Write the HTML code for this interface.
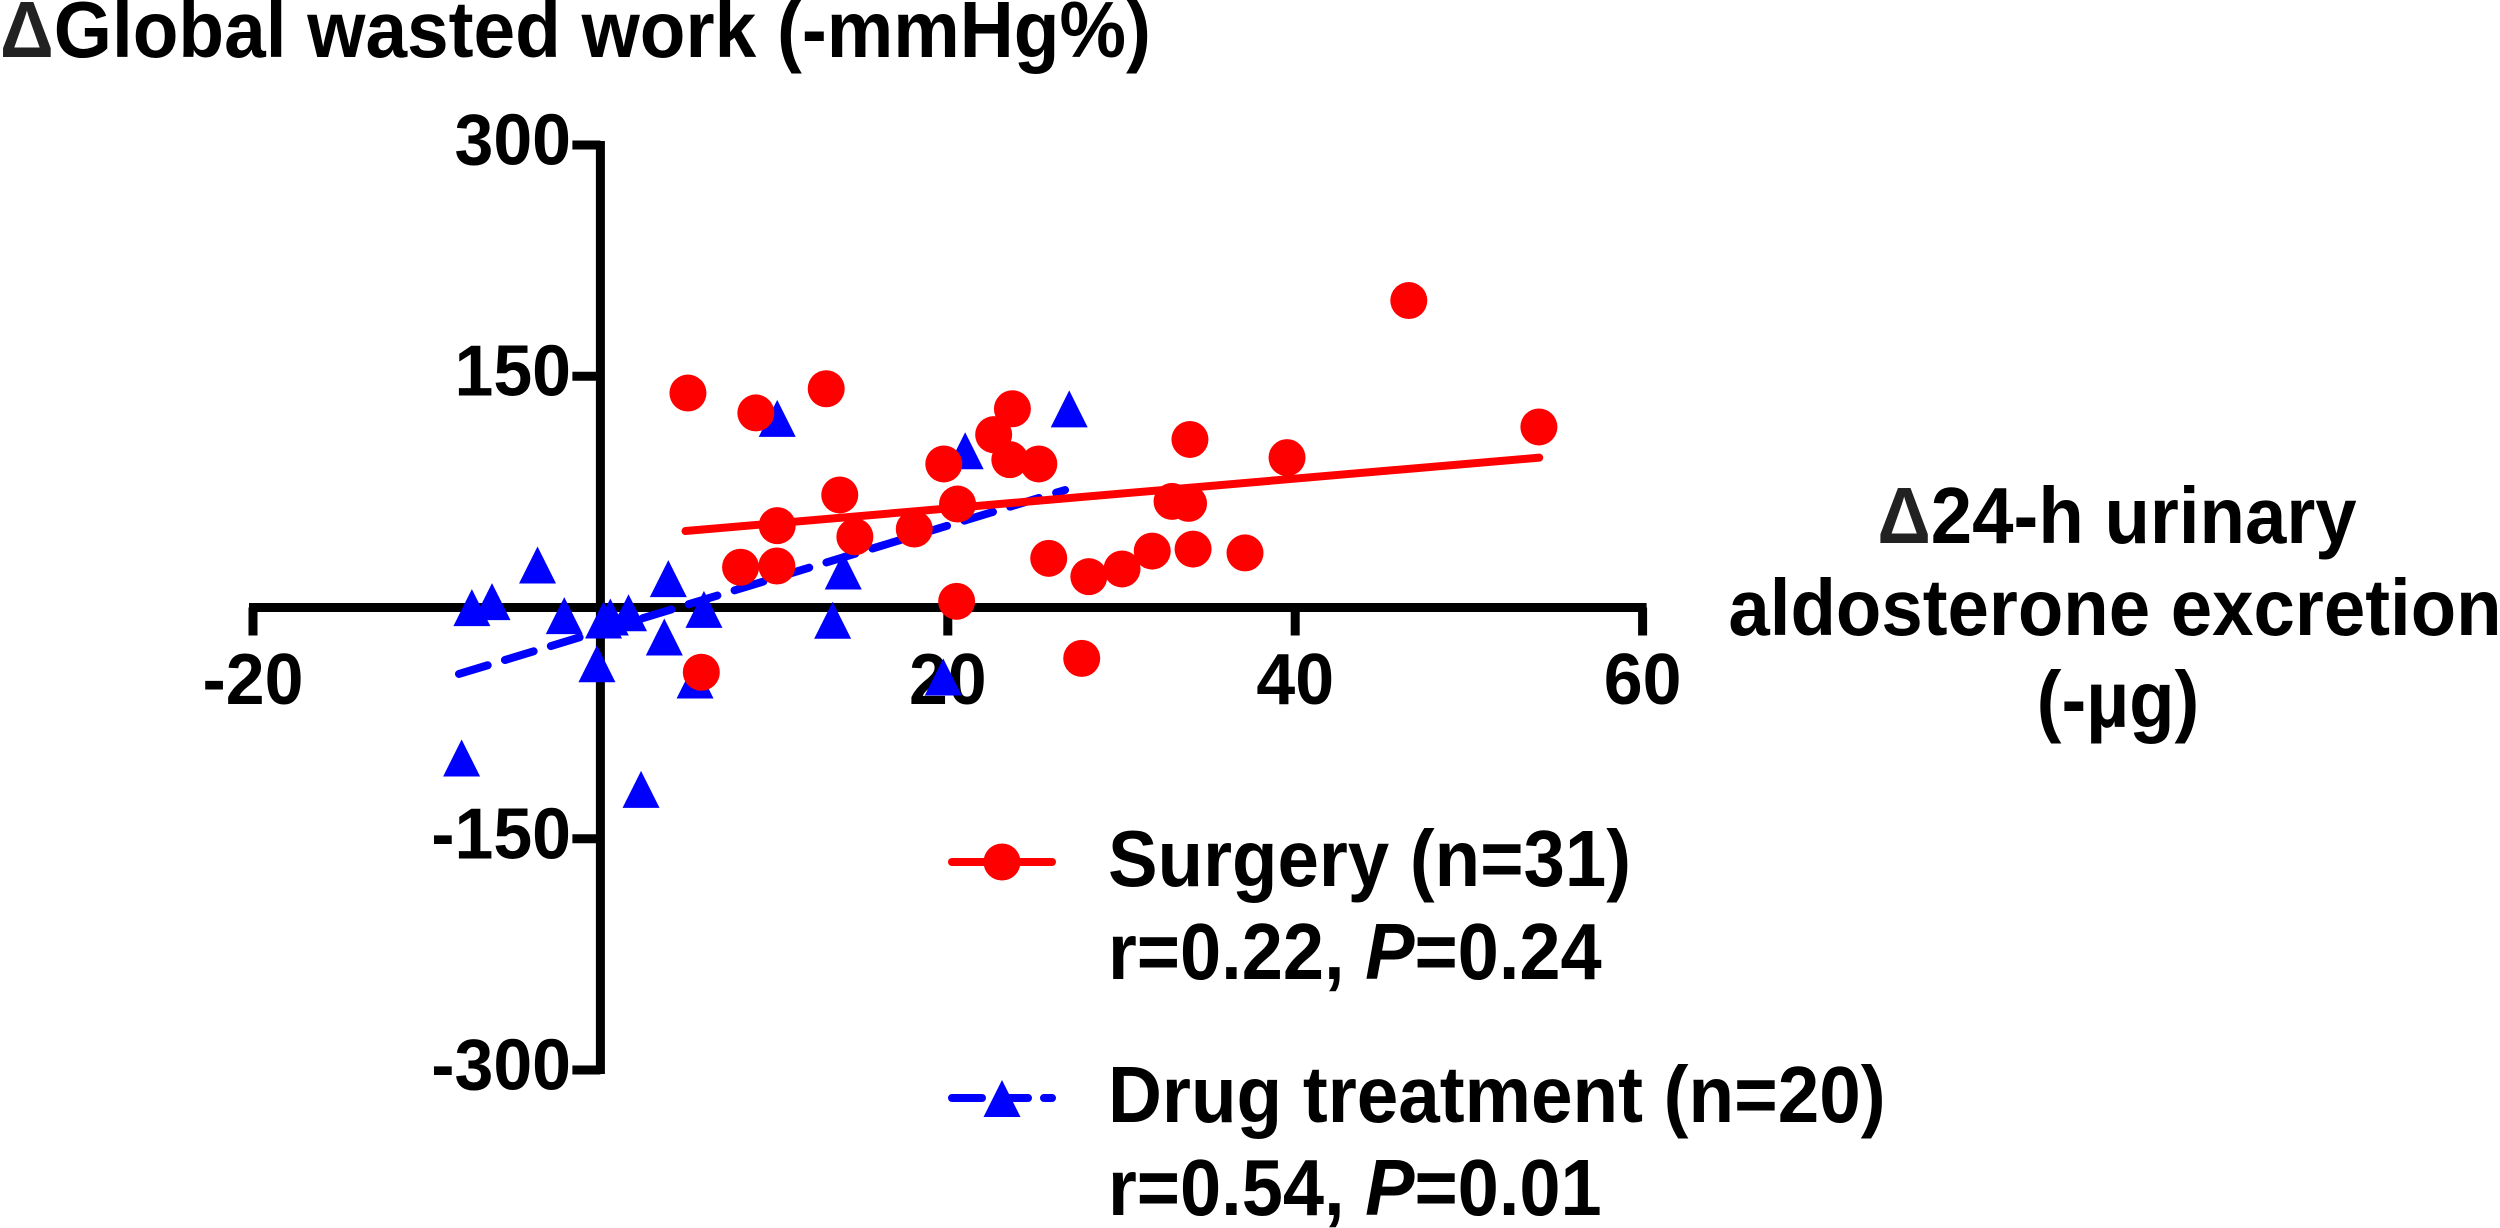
<!DOCTYPE html>
<html lang="en">
<head>
<meta charset="utf-8">
<title>Change in global wasted work vs change in aldosterone excretion</title>
<style>
html,body{margin:0;padding:0;background:#fff;width:2500px;height:1228px;overflow:hidden}
svg{display:block}
text{font-family:"Liberation Sans",Arial,sans-serif;font-weight:700;fill:#000}
.tick{font-size:72px}
.label{font-size:80px}
.delta{fill:#222}
</style>
</head>
<body>
<svg id="chart" width="2500" height="1228" viewBox="0 0 2500 1228" xmlns="http://www.w3.org/2000/svg">
  <rect width="2500" height="1228" fill="#fff"/>
  <g id="axes"></g>
  <text class="label" transform="translate(0 57) scale(.935 1)"><tspan class="delta">Δ</tspan>Global wasted work (-mmHg%)</text>
  <g>
    <text class="label" transform="translate(2117 543) scale(.93 1)" text-anchor="middle"><tspan class="delta">Δ</tspan>24-h urinary</text>
    <text class="label" transform="translate(2115 635) scale(.93 1)" text-anchor="middle">aldosterone excretion</text>
    <text class="label" transform="translate(2118 727) scale(.93 1)" text-anchor="middle">(-µg)</text>
  </g>
  <g id="series-drug"></g>
  <g id="series-surgery"></g>
  <g>
    <g>
      <line x1="952" y1="862" x2="1052" y2="862" stroke="#f00" stroke-width="8" stroke-linecap="round"/>
      <circle cx="1002" cy="862" r="18.5" fill="#f00"/>
      <text class="label" transform="translate(1108 886) scale(.93 1)">Surgery (n=31)</text>
      <text class="label" transform="translate(1108 979) scale(.925 1)">r=0.22, <tspan font-style="italic">P</tspan>=0.24</text>
    </g>
    <g>
      <line x1="952" y1="1098" x2="1052" y2="1098" stroke="#00f" stroke-width="8" stroke-linecap="round" stroke-dasharray="30 16"/>
      <polygon points="1002,1080 1020.5,1117 983.5,1117" fill="#00f"/>
      <text class="label" transform="translate(1108 1122) scale(.933 1)">Drug treatment (n=20)</text>
      <text class="label" transform="translate(1108 1215) scale(.925 1)">r=0.54, <tspan font-style="italic">P</tspan>=0.01</text>
    </g>
  </g>
</svg>
<script>
const xTicks = [-20, 20, 40, 60];
const yTicks = [300, 150, -150, -300];

const surgeryX = [5.04, 8.95, 13.0, 23.72, 22.64, 23.57, 25.24, 19.77, 13.78, 20.56, 10.18, 14.65, 18.07, 8.07, 10.16, 25.81, 28.12, 30.03, 31.77, 34.12, 37.11, 32.91, 33.86, 33.94, 39.53, 46.54, 54.03, 20.51, 5.81, 27.71];
const surgeryY = [139.1, 126.2, 141.9, 128.9, 112.1, 95.9, 93.1, 93.1, 73.0, 67.1, 53.1, 45.9, 50.9, 26.1, 26.9, 31.9, 20.0, 25.0, 36.6, 37.9, 35.4, 68.8, 67.5, 109.0, 97.2, 199.1, 117.1, 4.0, -42.0, -33.0];

const drugX = [10.18, 21.0, 26.99, -3.62, 3.91, -6.24, -7.4, -2.08, 0.18, 0.57, 1.62, 5.96, 13.98, 13.37, 3.68, -0.2, 5.45, 19.74, -7.99, 2.34];
const drugY = [122.7, 101.7, 128.8, 27.6, 18.7, 3.8, -0.1, -5.3, -8.1, -6.2, -3.4, -1.2, 23.7, -8.3, -19.1, -36.5, -47, -45.1, -97.6, -118];

const surgeryFitX = [4.9, 54.05];
const surgeryFitY = [49.6, 97.2];
const drugFitX = [-8.14, 26.75];
const drugFitY = [-43.1, 76.2];

const SVG_NS = 'http://www.w3.org/2000/svg';
const X_ZERO = 600.4, X_UNIT = 17.37;
const Y_ZERO = 607.5, Y_UNIT = 1.5417;
const MARKER = 18.5;

function xScale(v) { return X_ZERO + X_UNIT * v; }
function yScale(v) { return Y_ZERO - Y_UNIT * v; }
function make(tag, attrs, parent) {
  const el = document.createElementNS(SVG_NS, tag);
  for (const k in attrs) el.setAttribute(k, attrs[k]);
  parent.appendChild(el);
  return el;
}

const axes = document.getElementById('axes');
const AXIS_STROKE = { stroke: '#000', 'stroke-width': 9 };

const xMin = Math.min(...xTicks), xMax = Math.max(...xTicks);
const yMin = Math.min(...yTicks), yMax = Math.max(...yTicks);

const xAxisLine = make('line', Object.assign({ x1: xScale(xMin) - 4, y1: yScale(0), x2: xScale(xMax) + 4, y2: yScale(0) }, AXIS_STROKE), axes);



const yAxisLine = make('line', Object.assign({ x1: xScale(0), y1: yScale(yMax) - 4, x2: xScale(0), y2: yScale(yMin) + 4 }, AXIS_STROKE), axes);



xTicks.forEach(function (t) {
  const mark = make('line', Object.assign({ x1: xScale(t), y1: yScale(0), x2: xScale(t), y2: yScale(0) + 28 }, AXIS_STROKE), axes);
  
  
  const label = make('text', { class: 'tick', transform: 'translate(' + xScale(t) + ' 704) scale(.97 1)', 'text-anchor': 'middle' }, axes);
  label.textContent = String(t);
  
  
});

yTicks.forEach(function (t) {
  const mark = make('line', Object.assign({ x1: xScale(0), y1: yScale(t), x2: xScale(0) - 28, y2: yScale(t) }, AXIS_STROKE), axes);
  
  
  const label = make('text', { class: 'tick', transform: 'translate(571 ' + (yScale(t) + 19.5) + ') scale(.97 1)', 'text-anchor': 'end' }, axes);
  label.textContent = String(t);
  
  
});

const drugGroup = document.getElementById('series-drug');
const drugFit = make('line', { x1: xScale(drugFitX[0]), y1: yScale(drugFitY[0]), x2: xScale(drugFitX[1]), y2: yScale(drugFitY[1]), stroke: '#00f', 'stroke-width': 8, 'stroke-linecap': 'round', 'stroke-dasharray': '30 18' }, drugGroup);



drugX.forEach(function (x, i) {
  const cx = xScale(x), cy = yScale(drugY[i]);
  const pts = [[cx, cy - MARKER], [cx + MARKER, cy + MARKER], [cx - MARKER, cy + MARKER]].join(' ');
  const tri = make('polygon', { points: pts, fill: '#00f' }, drugGroup);
  
  
});

const surgeryGroup = document.getElementById('series-surgery');
const surgeryFit = make('line', { x1: xScale(surgeryFitX[0]), y1: yScale(surgeryFitY[0]), x2: xScale(surgeryFitX[1]), y2: yScale(surgeryFitY[1]), stroke: '#f00', 'stroke-width': 8, 'stroke-linecap': 'round' }, surgeryGroup);



surgeryX.forEach(function (x, i) {
  const dot = make('circle', { cx: xScale(x), cy: yScale(surgeryY[i]), r: MARKER, fill: '#f00' }, surgeryGroup);
  
  
});
</script>
</body>
</html>
